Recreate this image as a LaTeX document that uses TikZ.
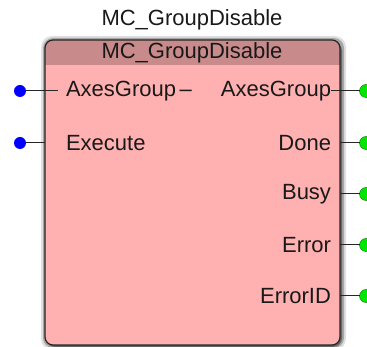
\documentclass[tikz,border=0pt]{standalone}
\usepackage{fontspec}
\setmainfont{Liberation Sans}
\definecolor{headred}{RGB}{200,138,138}
\definecolor{bodyred}{RGB}{255,176,176}
\definecolor{pingreen}{RGB}{0,230,0}
\begin{document}
\begin{tikzpicture}[
  x=1pt, y=-1pt,
  every node/.style={inner sep=0pt, outer sep=0pt},
  fbtitle/.style={font=\fontsize{22}{26}\selectfont, text=black!90},
  pinlabel/.style={font=\fontsize{22}{26}\selectfont, text=black!90},
  indot/.style={circle, fill=blue, minimum size=12pt},
  outdot/.style={circle, fill=pingreen, draw=green!45!black, line width=0.4pt, minimum size=13pt},
  pinline/.style={black!85, line width=1pt}
]
\useasboundingbox (0,0) rectangle (367,347);

% Block outline and its soft shadow.
\fill[black!12, rounded corners=11pt] (41,36) rectangle (346,350);
\fill[black!35, rounded corners=10pt] (43,38) rectangle (344,348);
\fill[black!60, rounded corners=9pt] (46,42) rectangle (342,347);
\fill[bodyred, rounded corners=8pt] (45,40) rectangle (340,345);
\begin{scope}
  \clip[rounded corners=8pt] (45,40) rectangle (340,345);
  \fill[headred] (45,40) rectangle (340,65);
\end{scope}
\draw[black!85, line width=1.2pt, rounded corners=8pt] (45,40) rectangle (340,345);

% Instance name above, type name in the band.
\node[fbtitle] (inst) at (192,20) {MC\_GroupDisable};
\node[fbtitle] (type) at (192,53) {MC\_GroupDisable};

% Inputs
\node[indot] (inA) at (20,91) {};
\node[indot] (inE) at (20,143) {};
\node[pinlabel, anchor=west] (lAxes) at (66,91) {AxesGroup\,–};
\node[pinlabel, anchor=west] (lExec) at (66,143) {Execute};
\coordinate (eA) at (58,91);
\coordinate (eE) at (45,143);
\draw[pinline] (inA) -- (eA);
\draw[pinline] (inE) -- (eE);

% Outputs
\foreach \nm/\txt/\yy in {oA/AxesGroup/91, oD/Done/143, oB/Busy/194, oE/Error/245, oI/ErrorID/296} {
  \node[outdot] (\nm) at (366,\yy) {};
  \node[pinlabel, anchor=east] (l\nm) at (331,\yy) {\txt};
}
\draw[pinline] (loA.east) -- (oA);
\foreach \nm in {oD, oB, oE, oI}
  \draw[pinline] (340,0 |- \nm) -- (\nm);

\end{tikzpicture}
\end{document}
